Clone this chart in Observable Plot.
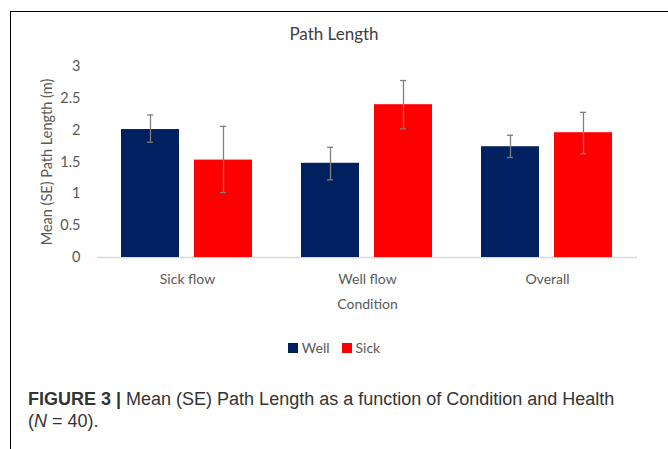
<!DOCTYPE html>
<html>
<head>
<meta charset="utf-8">
<script src="https://cdn.jsdelivr.net/npm/d3@7"></script>
<script src="https://cdn.jsdelivr.net/npm/@observablehq/plot@0.6"></script>
<style>
  html, body { margin: 0; padding: 0; background: #fff; overflow: hidden; }
  #page { position: relative; width: 668px; height: 449px; }
  #frame { position: absolute; left: 10px; top: 11px; width: 800px; height: 600px; border-left: 1px solid #000; border-top: 1px solid #000; }
  #title { position: absolute; left: 0; width: 668px; top: 23px; text-align: center; font-family: Lato, sans-serif; font-size: 17px; color: #404040; }
  #chart { position: absolute; left: 0; top: 0; }
  #legend { position: absolute; left: 0; width: 668px; top: 339px; display: flex; justify-content: center; gap: 12px; font-family: Lato, sans-serif; font-size: 14px; color: #595959; }
  #legend .item { display: flex; align-items: center; gap: 4px; }
  #legend .sw { width: 10px; height: 10px; display: inline-block; }
  #caption { position: absolute; left: 28px; top: 388px; font-family: "Liberation Sans", Arial, sans-serif; font-size: 18px; line-height: 22px; color: #333; }
</style>
</head>
<body>
<div id="page">
  <div id="frame"></div>
  <div id="title">Path Length</div>
  <div id="chart"></div>
  <div id="legend"></div>
  <div id="caption"><b>FIGURE 3 |</b> Mean (SE) Path Length as a function of Condition and Health<br>(<i>N</i> = 40).</div>
</div>
<script>
const conditions = ["Sick flow", "Well flow", "Overall"];
const healthGroups = ["Well", "Sick"];
const wellMeans = [2.01, 1.48, 1.74];
const wellLow = [1.81, 1.22, 1.57];
const wellHigh = [2.24, 1.73, 1.92];
const sickMeans = [1.53, 2.40, 1.96];
const sickLow = [1.02, 2.02, 1.63];
const sickHigh = [2.06, 2.78, 2.28];
const yTicks = [0, 0.5, 1, 1.5, 2, 2.5, 3];
const colors = ["#002060", "#FF0000"];

const rows = [];
conditions.forEach((c, i) => {
  rows.push({condition: c, health: "Well", mean: wellMeans[i], low: wellLow[i], high: wellHigh[i]});
  rows.push({condition: c, health: "Sick", mean: sickMeans[i], low: sickLow[i], high: sickHigh[i]});
});

const chart = Plot.plot({
  width: 668,
  height: 320,
  marginTop: 66,
  marginBottom: 63,
  marginLeft: 97,
  marginRight: 31,
  style: {fontFamily: "Lato, sans-serif", fontSize: "14px", color: "#595959", background: "transparent", overflow: "visible"},
  fx: {domain: conditions, padding: 0, axis: null},
  x: {domain: healthGroups, paddingInner: 0.2, paddingOuter: 0.33, axis: null},
  y: {domain: [0, 3], axis: null},
  color: {domain: healthGroups, range: colors},
  marks: [
    Plot.axisY({ticks: yTicks, tickSize: 0, tickPadding: 17, tickFormat: d => String(d), label: "Mean (SE) Path Length (m)", labelAnchor: "center", labelArrow: "none", labelOffset: 56, fontSize: 14.5}),
    Plot.axisFx({anchor: "bottom", tickSize: 0, tickPadding: 17, label: "Condition", labelAnchor: "center", labelArrow: "none", labelOffset: 51, fontSize: 14}),
    Plot.ruleY([0], {stroke: "#d9d9d9", strokeWidth: 1.5}),
    Plot.barY(rows, {fx: "condition", x: "health", y: "mean", fill: "health"}),
    Plot.ruleX(rows, {fx: "condition", x: "health", y1: "low", y2: "high", stroke: "#7f7f7f", strokeWidth: 1.3}),
    Plot.tickY(rows, {fx: "condition", x: "health", y: "low", stroke: "#7f7f7f", strokeWidth: 1.3, insetLeft: 26, insetRight: 26}),
    Plot.tickY(rows, {fx: "condition", x: "health", y: "high", stroke: "#7f7f7f", strokeWidth: 1.3, insetLeft: 26, insetRight: 26})
  ]
});
document.getElementById("chart").appendChild(chart);

const legend = document.getElementById("legend");
healthGroups.forEach((h, i) => {
  const item = document.createElement("span");
  item.className = "item";
  const sw = document.createElement("span");
  sw.className = "sw";
  sw.style.background = colors[i];
  item.appendChild(sw);
  item.appendChild(document.createTextNode(h));
  legend.appendChild(item);
});
</script>
</body>
</html>
